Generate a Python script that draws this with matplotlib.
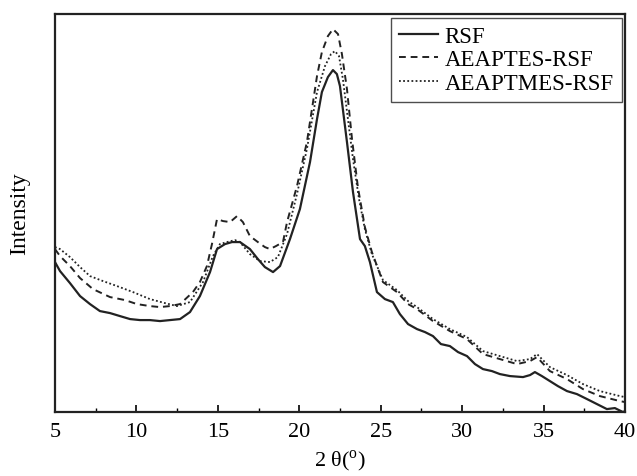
import matplotlib
matplotlib.use("Agg")
from matplotlib import pyplot as plt
from matplotlib.ticker import MultipleLocator

plt.rcParams['font.family'] = ['Liberation Serif', 'DejaVu Serif']

# RSF (solid)
x_rsf = [5.0, 5.31, 5.92, 6.54, 7.15, 7.76, 8.38, 8.99, 9.61, 10.22, 10.83, 11.45, 12.06, 12.68,
         13.29, 13.90, 14.52, 14.95, 15.44, 15.87, 16.36, 16.97, 17.46, 17.89, 18.39, 18.82,
         19.43, 20.04, 20.66, 21.09, 21.39, 21.76, 22.07, 22.31, 22.50, 22.93, 23.30, 23.73,
         24.03, 24.34, 24.77, 25.26, 25.75, 26.18, 26.68, 27.23, 27.72, 28.21, 28.70, 29.25,
         29.75, 30.30, 30.79, 31.28, 31.83, 32.32, 32.94, 33.74, 34.17, 34.47, 34.90, 35.39,
         35.88, 36.44, 37.05, 37.67, 38.28, 38.89, 39.38, 39.88, 40.0]
y_rsf = [150, 141, 129, 116, 108, 101, 99, 96, 93, 92, 92, 91, 92, 93,
         100, 116, 140, 163, 168, 170, 170, 163, 153, 145, 140, 146,
         173, 203, 250, 293, 320, 335, 342, 338, 326, 270, 220, 173,
         166, 150, 120, 113, 110, 98, 88, 83, 80, 76, 68, 66,
         60, 56, 48, 43, 41, 38, 36, 35, 37, 40, 36, 31,
         26, 21, 18, 13, 8, 3, 4, 0, 1]

# AEAPTES-RSF (dashed)
x_aes = [5.0, 5.31, 5.92, 6.54, 7.33, 8.38, 9.30, 10.03, 10.83, 11.45, 12.06, 12.68, 13.47,
         13.90, 14.33, 14.64, 14.95, 15.32, 15.75, 16.18, 16.54, 16.97, 17.46, 17.89, 18.20,
         18.57, 19.00, 19.25, 19.86, 20.47, 21.09, 21.39, 21.76, 22.07, 22.38, 22.62, 22.93,
         23.24, 23.60, 24.03, 24.46, 25.14, 26.00, 26.68, 27.23, 28.21, 29.25, 30.30, 31.28,
         32.32, 33.37, 34.17, 34.60, 35.39, 36.44, 37.42, 38.46, 39.69, 40.0]
y_aes = [163, 156, 146, 134, 123, 115, 112, 108, 106, 105, 106, 108, 120,
         130, 146, 168, 193, 191, 190, 196, 190, 176, 170, 165, 163,
         166, 170, 190, 226, 270, 336, 360, 376, 383, 378, 358, 323,
         273, 225, 185, 160, 130, 120, 108, 103, 91, 81, 73, 58,
         53, 48, 51, 55, 41, 33, 23, 16, 11, 10]

# AEAPTMES-RSF (dotted)
x_ams = [5.0, 5.31, 5.92, 6.54, 7.15, 7.95, 8.81, 9.79, 10.83, 11.75, 12.49, 13.29, 14.09,
         14.70, 15.13, 15.56, 16.05, 16.36, 16.97, 17.59, 18.20, 18.69, 19.25, 19.86, 20.47,
         21.09, 21.58, 21.95, 22.19, 22.44, 22.68, 22.99, 23.30, 23.67, 24.03, 24.46, 25.14,
         26.00, 26.68, 27.23, 28.21, 29.25, 30.30, 31.28, 32.32, 33.37, 34.17, 34.60, 35.39,
         36.44, 37.42, 38.46, 39.69, 40.0]
y_ams = [165, 163, 155, 145, 136, 131, 126, 120, 113, 109, 106, 110, 130,
         156, 168, 170, 172, 170, 158, 151, 150, 155, 178, 218, 263,
         320, 346, 358, 361, 356, 333, 293, 253, 213, 183, 158, 132,
         122, 111, 105, 93, 83, 75, 61, 56, 51, 53, 58, 45,
         37, 28, 21, 16, 15]

fig = plt.figure(figsize=(6.37, 4.77), dpi=100)
ax = fig.add_axes([0.0863, 0.134, 0.8948, 0.8344])

ax.plot(x_rsf, y_rsf, color='#222222', lw=1.6, ls='-', label='RSF')
ax.plot(x_aes, y_aes, color='#222222', lw=1.4, ls=(0, (3.5, 2.5)), label='AEAPTES-RSF')
ax.plot(x_ams, y_ams, color='#222222', lw=1.3, ls=(0, (1, 1.3)), label='AEAPTMES-RSF')

ax.set_xlim(5, 40)
ax.set_ylim(0, 398)
ax.xaxis.set_major_locator(MultipleLocator(5))
ax.xaxis.set_minor_locator(MultipleLocator(2.5))
ax.tick_params(axis='x', which='major', direction='in', length=5, width=1.2, labelsize=16, pad=7)
ax.tick_params(axis='x', which='minor', direction='in', length=3, width=1.0)
ax.set_yticks([])
for s in ax.spines.values():
    s.set_linewidth(1.6)
    s.set_color('#222222')

ax.set_xlabel('2 θ($^\\mathregular{o}$)', fontsize=16, labelpad=5)
ax.set_ylabel('Intensity', fontsize=17, labelpad=18)

leg = ax.legend(loc='upper right', fontsize=16.5, frameon=True, fancybox=False,
                edgecolor='#222222', handlelength=1.7, borderaxespad=0.15,
                handletextpad=0.3, labelspacing=0.12, borderpad=0.35)
leg.get_frame().set_linewidth(1.0)

fig.savefig('out.png', dpi=100)
